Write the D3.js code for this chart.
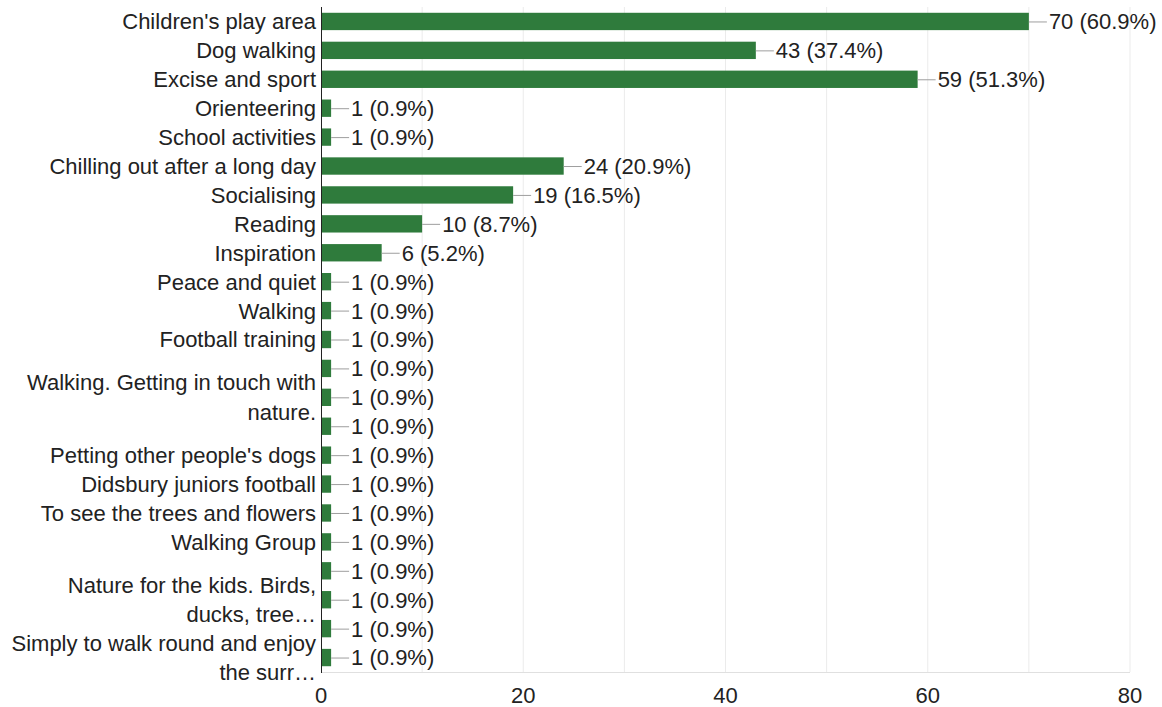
<!DOCTYPE html>
<html>
<head>
<meta charset="utf-8">
<script src="https://cdn.jsdelivr.net/npm/d3@7"></script>
<style>
    body { margin: 0; background: #fff; }
    svg { display: block; font-family: Arial, "Liberation Sans", sans-serif; }
    .grid line { stroke: #ebebeb; }
    .cat-label, .val-label, .tick-label { fill: #222; font-size: 22px; }
</style>
</head>
<body>
<div id="chart"></div>
<script>
// row labels as shown; empty entries are rows whose label Google skipped
const categories = [
    ["Children's play area"],
    ["Dog walking"],
    ["Excise and sport"],
    ["Orienteering"],
    ["School activities"],
    ["Chilling out after a long day"],
    ["Socialising"],
    ["Reading"],
    ["Inspiration"],
    ["Peace and quiet"],
    ["Walking"],
    ["Football training"],
    [],
    ["Walking. Getting in touch with", "nature."],
    [],
    ["Petting other people's dogs"],
    ["Didsbury juniors football"],
    ["To see the trees and flowers"],
    ["Walking Group"],
    [],
    ["Nature for the kids. Birds,", "ducks, tree…"],
    [],
    ["Simply to walk round and enjoy", "the surr…"],
];
const counts = [70, 43, 59, 1, 1, 24, 19, 10, 6, 1, 1, 1, 1, 1, 1, 1, 1, 1, 1, 1, 1, 1, 1];
const percents = ["60.9", "37.4", "51.3", "0.9", "0.9", "20.9", "16.5", "8.7", "5.2",
    "0.9", "0.9", "0.9", "0.9", "0.9", "0.9", "0.9", "0.9", "0.9", "0.9", "0.9", "0.9", "0.9", "0.9"];
const xTicks = [0, 20, 40, 60, 80];
const xGrid = [10, 20, 30, 40, 50, 60, 70, 80];

const W = 1162, H = 707;
const M = { left: 321, right: 1130, top: 7, bottom: 672 };
const BAR_COLOR = "#2f7b3c";

const rows = counts.map((c, i) => ({ i, count: c, pct: percents[i], label: categories[i] }));

const svg = d3.select("#chart").append("svg").attr("width", W).attr("height", H);

const x = d3.scaleLinear().domain([0, 80]).range([M.left, M.right]);
const y = d3.scaleBand().domain(rows.map((d) => d.i)).range([M.top, M.bottom])
    .paddingInner(0.4).paddingOuter(0.2);

svg.append("g").attr("class", "grid")
    .selectAll("line")
    .data(xGrid)
    .enter()
    .append("line")
    .attr("x1", (d) => x(d)).attr("x2", (d) => x(d))
    .attr("y1", M.top).attr("y2", M.bottom);

svg.append("line")
    .attr("x1", M.left).attr("x2", M.right)
    .attr("y1", M.bottom + 0.5).attr("y2", M.bottom + 0.5)
    .attr("stroke", "#e0e0e0");

svg.selectAll(".bar")
    .data(rows)
    .enter()
    .append("rect")
    .attr("class", "bar")
    .attr("x", x(0))
    .attr("y", (d) => y(d.i))
    .attr("width", (d) => x(d.count) - x(0))
    .attr("height", y.bandwidth())
    .attr("fill", BAR_COLOR);

svg.append("line")
    .attr("x1", M.left + 0.5).attr("x2", M.left + 0.5)
    .attr("y1", M.top).attr("y2", M.bottom + 1)
    .attr("stroke", "#222");

const mid = (d) => y(d.i) + y.bandwidth() / 2;

svg.selectAll(".leader")
    .data(rows)
    .enter()
    .append("line")
    .attr("class", "leader")
    .attr("x1", (d) => x(d.count)).attr("x2", (d) => x(d.count) + 18)
    .attr("y1", (d) => mid(d) + 0.5).attr("y2", (d) => mid(d) + 0.5)
    .attr("stroke", "#9e9e9e");

svg.selectAll(".val-label")
    .data(rows)
    .enter()
    .append("text")
    .attr("class", "val-label")
    .attr("x", (d) => x(d.count) + 20)
    .attr("y", (d) => mid(d))
    .attr("dy", "0.36em")
    .text((d) => `${d.count} (${d.pct}%)`);

const lineGap = 29.5;
svg.selectAll(".cat-label")
    .data(rows.filter((d) => d.label.length))
    .enter()
    .append("text")
    .attr("class", "cat-label")
    .attr("text-anchor", "end")
    .each(function (d) {
        const t = d3.select(this);
        const off = -(d.label.length - 1) * lineGap / 2;
        d.label.forEach((line, k) => {
            t.append("tspan")
                .attr("x", M.left - 5)
                .attr("y", mid(d) + off + k * lineGap)
                .attr("dy", "0.36em")
                .text(line);
        });
    });

svg.selectAll(".tick-label")
    .data(xTicks)
    .enter()
    .append("text")
    .attr("class", "tick-label")
    .attr("text-anchor", "middle")
    .attr("x", (d) => x(d))
    .attr("y", 695)
    .attr("dy", "0.36em")
    .text((d) => d);
</script>
</body>
</html>
